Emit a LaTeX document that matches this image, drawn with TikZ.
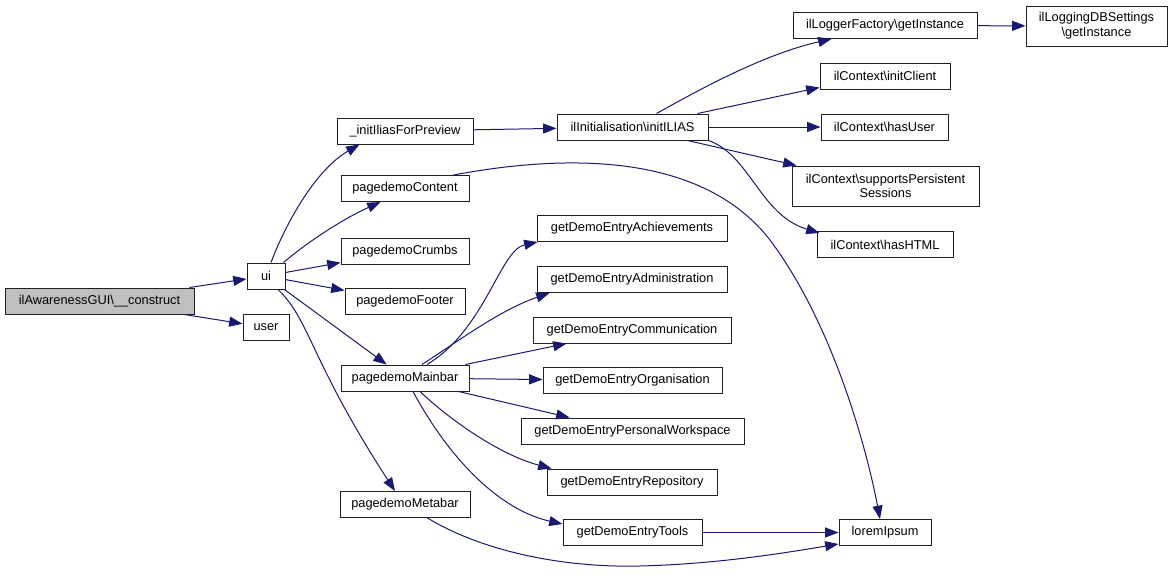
\documentclass[tikz,border=0pt]{standalone}
\usepackage{fontspec}
\setmainfont{Liberation Sans}
\usetikzlibrary{arrows.meta,calc}
\definecolor{edgecol}{HTML}{191970}
\definecolor{hl}{HTML}{BFBFBF}
\definecolor{boxcol}{HTML}{202020}
\begin{document}
\begin{tikzpicture}[x=0.75pt,y=-0.75pt,
  fn/.style={draw=boxcol,line width=0.75pt,fill=white,inner sep=0pt,minimum height=19.5pt,
    font=\fontsize{9.6}{11}\selectfont,align=center},
  edge/.style={draw=edgecol,line width=0.75pt,-{Triangle[length=10pt,width=7.5pt]}}]
\useasboundingbox (0,0) rectangle (1172,575);
% nodes
\node[fn,fill=hl,minimum width=141.75pt] (cons) at (99.5,301) {ilAwarenessGUI\textbackslash\_\_construct};
\node[fn,minimum width=28.5pt] (ui) at (266,276) {ui};
\node[fn,minimum width=34.5pt] (user) at (266,327.5) {user};
\node[fn,minimum width=102pt] (init) at (405,131) {\_initIliasForPreview};
\node[fn,minimum width=96pt] (content) at (405,188.5) {pagedemoContent};
\node[fn,minimum width=96pt] (crumbs) at (405,251) {pagedemoCrumbs};
\node[fn,minimum width=90pt] (footer) at (405,301.5) {pagedemoFooter};
\node[fn,minimum width=96pt] (mainbar) at (405,378) {pagedemoMainbar};
\node[fn,minimum width=97.5pt] (metabar) at (405,504.5) {pagedemoMetabar};
\node[fn,minimum width=113.25pt] (initI) at (632.5,127) {ilInitialisation\textbackslash initILIAS};
\node[fn,minimum width=142.5pt] (ach) at (632,228.5) {getDemoEntryAchievements};
\node[fn,minimum width=142.5pt] (adm) at (632,279.5) {getDemoEntryAdministration};
\node[fn,minimum width=148.5pt] (comm) at (632,330) {getDemoEntryCommunication};
\node[fn,minimum width=134.25pt] (org) at (632.5,380.5) {getDemoEntryOrganisation};
\node[fn,minimum width=167.25pt] (pw) at (632.5,431) {getDemoEntryPersonalWorkspace};
\node[fn,minimum width=127.5pt] (repo) at (632,482) {getDemoEntryRepository};
\node[fn,minimum width=104.25pt] (tools) at (632.5,532.5) {getDemoEntryTools};
\node[fn,minimum width=69pt] (lorem) at (885,532.5) {loremIpsum};
\node[fn,minimum width=138pt] (logger) at (885,25.5) {ilLoggerFactory\textbackslash getInstance};
\node[fn,minimum width=105.75pt,minimum height=30pt] (logdb) at (1096.5,26) {ilLoggingDBSettings\\\textbackslash getInstance};
\node[fn,minimum width=97.5pt] (initclient) at (885,76) {ilContext\textbackslash initClient};
\node[fn,minimum width=95.25pt] (hasuser) at (884.5,127) {ilContext\textbackslash hasUser};
\node[fn,minimum width=140.25pt,minimum height=30pt] (sps) at (885.5,186) {ilContext\textbackslash supportsPersistent\\Sessions};
\node[fn,minimum width=102pt] (hashtml) at (885,244.5) {ilContext\textbackslash hasHTML};
% edges
\draw[edge] (cons) -- (ui);
\draw[edge] (cons) -- (user);
\draw[edge] ($(ui.north)+(5,0)$) .. controls (285,225) and (315,170) .. ($(init.south west)+(23,0)$);
\draw[edge] ($(ui.north east)+(-2,0)$) .. controls (310,240) and (345,218) .. ($(content.south west)+(40,0)$);
\draw[edge] (ui) -- (crumbs);
\draw[edge] (ui) -- (footer);
\draw[edge] (ui) -- (mainbar);
\draw[edge] ($(ui.south)+(12,0)$) .. controls (310,320) and (310,360) .. ($(metabar.north)+(-10,0)$);
\draw[edge] (init) -- (initI);
\draw[edge] ($(initI.north)+(24,0)$) .. controls (690,95) and (760,55) .. ($(logger.south west)+(39,0)$);
\draw[edge] ($(initI.north east)+(-11,0)$) -- ($(initclient.south west)+(0,-2)$);
\draw[edge] (initI) -- (hasuser);
\draw[edge] ($(initI.south east)+(-21,0)$) -- ($(sps.north west)+(5,0)$);
\draw[edge] (initI.south east) .. controls (750,155) and (760,215) .. ($(hashtml.north west)+(3,2)$);
\draw[edge] (logger) -- (logdb);
\draw[edge] ($(content.north east)+(-16,0)$) .. controls (560,155) and (700,150) .. (770,240)
  .. controls (830,320) and (865,440) .. ($(lorem.north)+(-5,0)$);
\draw[edge] ($(mainbar.north)+(22,0)$) .. controls (485,330) and (500,250) .. ($(ach.south west)+(1,0)$);
\draw[edge] ($(mainbar.north)+(17,0)$) .. controls (460,340) and (500,310) .. ($(adm.south west)+(13,0)$);
\draw[edge] ($(mainbar.north east)+(-4,0)$) -- ($(comm.south west)+(34,0)$);
\draw[edge] (mainbar) -- (org);
\draw[edge] ($(mainbar.south east)+(-11,0)$) -- ($(pw.north west)+(49,0)$);
\draw[edge] ($(mainbar.south)+(15,0)$) .. controls (450,420) and (500,455) .. ($(repo.north west)+(5,0)$);
\draw[edge] ($(mainbar.south)+(8,0)$) .. controls (450,460) and (500,510) .. ($(tools.north west)+(0,5)$);
\draw[edge] ($(metabar.south east)+(-43,0)$) .. controls (480,550) and (560,568) .. (640,566)
  .. controls (720,564) and (790,552) .. ($(lorem.south west)+(0,-2)$);
\draw[edge] (tools) -- (lorem);
\end{tikzpicture}
\end{document}
